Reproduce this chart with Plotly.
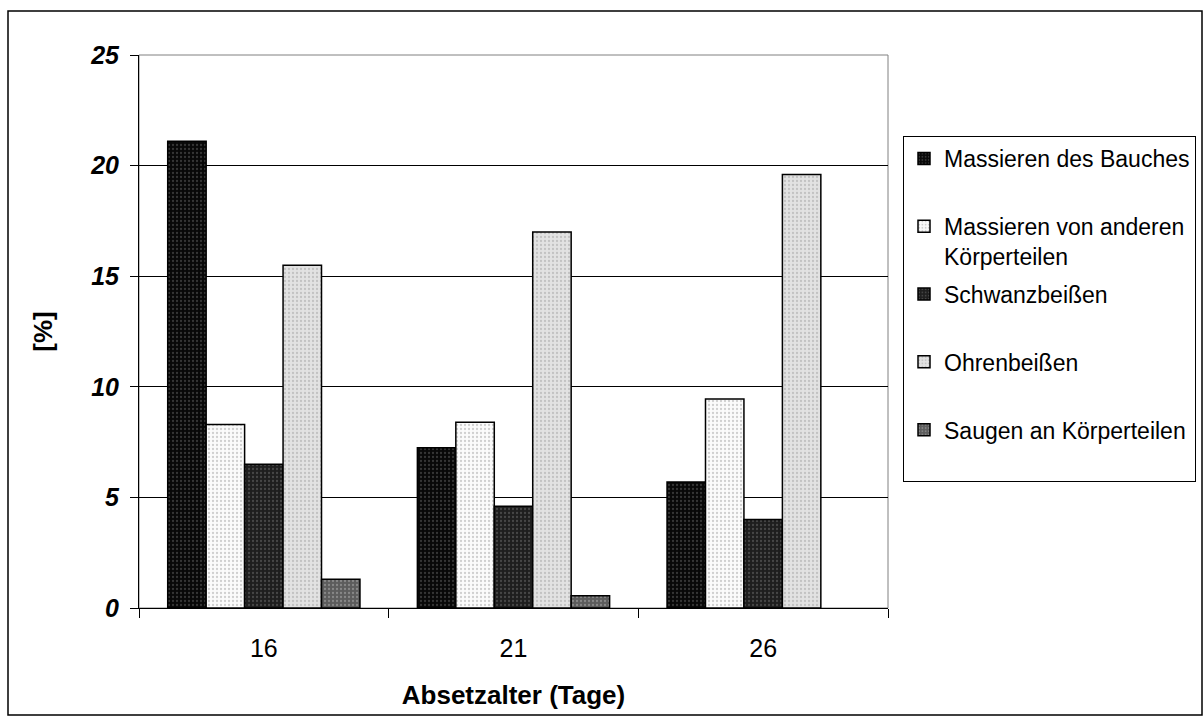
import plotly.graph_objects as go

categories = ["16", "21", "26"]
series_names = [
    "Massieren des Bauches",
    "Massieren von anderen<br>Körperteilen",
    "Schwanzbeißen",
    "Ohrenbeißen",
    "Saugen an Körperteilen",
]
massieren_bauch = [21.1, 7.25, 5.7]
massieren_andere = [8.3, 8.4, 9.45]
schwanzbeissen = [6.5, 4.6, 4.0]
ohrenbeissen = [15.5, 17.0, 19.6]
saugen = [1.3, 0.55, None]
y_ticks = [0, 5, 10, 15, 20, 25]

values = [massieren_bauch, massieren_andere, schwanzbeissen, ohrenbeissen, saugen]
bg_colors = ["#080808", "#fbfbfb", "#1e1e1e", "#e2e2e2", "#5c5c5c"]
fg_colors = ["#363636", "#cfcfcf", "#474747", "#c2c2c2", "#888888"]

FONT = "Liberation Sans, Arial, sans-serif"

fig = go.Figure()
for i, (name, vals) in enumerate(zip(series_names, values)):
    label = name if "<br>" in name else name + "<br> "
    fig.add_trace(go.Bar(
        x=categories, y=vals, name=label,
        legendgroup=f"g{i}",
        marker=dict(
            color=bg_colors[i],
            line=dict(color="#000000", width=1.5),
            pattern=dict(shape=".", fillmode="replace", bgcolor=bg_colors[i],
                         fgcolor=fg_colors[i], size=4, solidity=0.25),
        ),
    ))

L, R, T, B = 139, 888, 55, 608
W, H = 1204, 717
pw, ph = R - L, B - T

def px(x):
    return (x - L) / pw

def py(y):
    return (B - y) / ph

fig.update_layout(
    width=W, height=H,
    margin=dict(l=L, r=W - R, t=T, b=H - B, pad=0),
    paper_bgcolor="white", plot_bgcolor="white",
    barmode="group", bargap=0.23, bargroupgap=0,
    font=dict(family=FONT, size=24, color="black"),
    showlegend=True,
    legend=dict(
        xref="container", yref="container",
        x=903 / W, y=1 - 136 / H, xanchor="left", yanchor="top",
        bgcolor="white", bordercolor="#000000", borderwidth=1,
        font=dict(family=FONT, size=23, color="black"),
        valign="top", tracegroupgap=5, traceorder="grouped",
        itemwidth=30,
    ),
    xaxis=dict(
        type="category", categoryorder="array", categoryarray=categories,
        showline=True, linecolor="black", linewidth=1,
        ticks="outside", tickson="boundaries", ticklen=9, tickcolor="black",
        tickfont=dict(family=FONT, size=25), ticklabelstandoff=18,
        title=dict(text="<b>Absetzalter (Tage)</b>", font=dict(family=FONT, size=26), standoff=24),
        showgrid=False, zeroline=False,
    ),
    yaxis=dict(
        range=[0, 25], tickvals=y_ticks, ticktext=[f"<b><i>{v}</i></b>" for v in y_ticks],
        showline=True, linecolor="black", linewidth=1,
        ticks="outside", ticklen=8, tickcolor="black",
        tickfont=dict(family=FONT, size=25), ticklabelstandoff=6,
        showgrid=True, gridcolor="black", gridwidth=1,
        zeroline=False,
        title=dict(text="<b>[%]</b>", font=dict(family=FONT, size=26), standoff=30),
    ),
    shapes=[
        dict(type="rect", xref="paper", yref="paper", x0=0, x1=1, y0=0, y1=1,
             line=dict(color="#808080", width=1), layer="below"),
        dict(type="rect", xref="paper", yref="paper", x0=px(8), x1=px(1202), y0=py(11), y1=py(715),
             line=dict(color="#000000", width=1.5), layer="below"),
    ],
)

fig.write_html("out.html")
